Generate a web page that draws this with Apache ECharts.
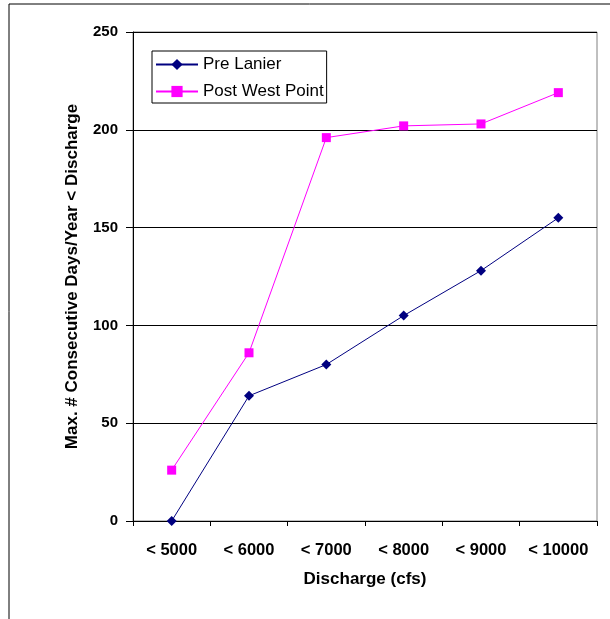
<!DOCTYPE html>
<html>
<head>
<meta charset="utf-8">
<script src="https://cdn.jsdelivr.net/npm/echarts@6/dist/echarts.min.js"></script>
<style>
html, body { margin: 0; padding: 0; background: #fff; }
#chart { width: 610px; height: 619px; }
</style>
</head>
<body>
<div id="chart"></div>
<script>
var categories = ['< 5000', '< 6000', '< 7000', '< 8000', '< 9000', '< 10000'];
var preLanier = [0, 64, 80, 105, 128, 155];
var postWestPoint = [26, 86, 196, 202, 203, 219];

var dom = document.getElementById('chart');
var myChart = echarts.init(dom);
var font = 'Liberation Sans, Arial, sans-serif';

var option = {
    animation: false,
    backgroundColor: '#ffffff',
    textStyle: { fontFamily: font },
    grid: {
        left: 133,
        right: 13,
        top: 32,
        bottom: 98,
        show: true,
        borderColor: '#808080',
        borderWidth: 1
    },
    legend: {
        orient: 'vertical',
        left: 152,
        top: 51,
        backgroundColor: '#ffffff',
        borderColor: '#000000',
        borderWidth: 1,
        padding: [5, 3, 3, 3],
        itemGap: 10,
        itemWidth: 42,
        itemHeight: 14,
        textStyle: { fontSize: 17, color: '#000', fontFamily: font },
        data: ['Pre Lanier', 'Post West Point']
    },
    xAxis: {
        type: 'category',
        data: categories,
        boundaryGap: true,
        name: 'Discharge (cfs)',
        nameLocation: 'middle',
        nameGap: 50,
        nameTextStyle: { fontSize: 17, fontWeight: 'bold', color: '#000' },
        axisLine: { lineStyle: { color: '#000', width: 1 } },
        axisTick: { show: true, interval: 0, alignWithLabel: false, length: 5, lineStyle: { color: '#000' } },
        axisLabel: { interval: 0, fontSize: 16.5, fontWeight: 'bold', color: '#000', margin: 21 },
        splitLine: { show: false }
    },
    yAxis: {
        type: 'value',
        min: 0,
        max: 250,
        interval: 50,
        name: 'Max. # Consecutive Days/Year < Discharge',
        nameLocation: 'middle',
        nameGap: 52,
        nameTextStyle: { fontSize: 17, fontWeight: 'bold', color: '#000' },
        axisLine: { show: true, lineStyle: { color: '#000', width: 1 } },
        axisTick: { show: true, length: 7, lineStyle: { color: '#000' } },
        axisLabel: { fontSize: 15, fontWeight: 'bold', color: '#000', margin: 15 },
        splitLine: { show: true, lineStyle: { color: '#000', width: 1 } }
    },
    series: [
        {
            name: 'Pre Lanier',
            type: 'line',
            data: preLanier,
            symbol: 'diamond',
            symbolSize: 10,
            itemStyle: { color: '#000080' },
            lineStyle: { color: '#000080', width: 1 }
        },
        {
            name: 'Post West Point',
            type: 'line',
            data: postWestPoint,
            symbol: 'rect',
            symbolSize: 9,
            itemStyle: { color: '#ff00ff' },
            lineStyle: { color: '#ff00ff', width: 1 }
        }
    ],
    graphic: [
        { type: 'line', shape: { x1: 9, y1: 4, x2: 610, y2: 4 }, style: { stroke: '#000', lineWidth: 1 } },
        { type: 'line', shape: { x1: 9, y1: 4, x2: 9, y2: 619 }, style: { stroke: '#000', lineWidth: 1 } }
    ]
};

if (option && typeof option === 'object') {
    myChart.setOption(option, true);
}
</script>
</body>
</html>
